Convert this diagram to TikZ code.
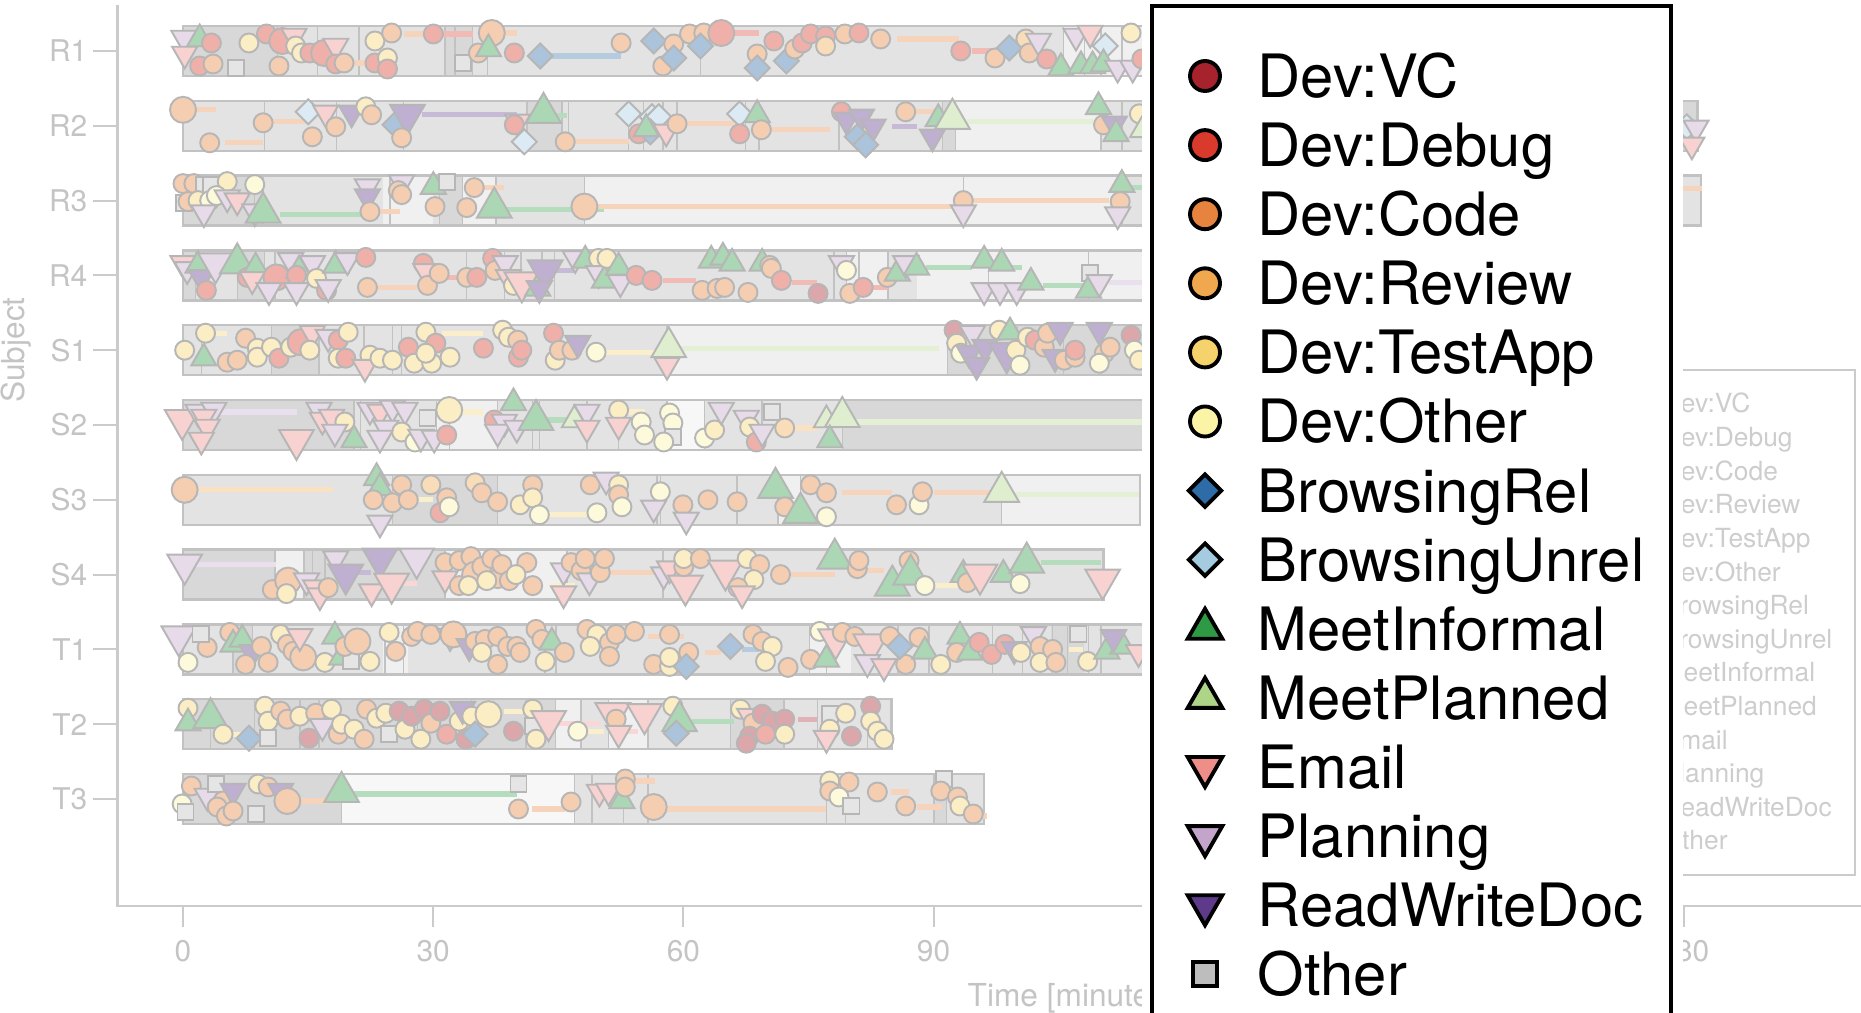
\documentclass[tikz,border=0pt]{standalone}
\usepackage{fontspec}
\setmainfont{TeX Gyre Heros}
\usetikzlibrary{shapes.geometric}

% activity colours (legend) and their faded versions (plot)
\definecolor{cVC}{HTML}{A6222C}
\definecolor{cDebug}{HTML}{D93A2B}
\definecolor{cCode}{HTML}{E6843F}
\definecolor{cReview}{HTML}{F0A84E}
\definecolor{cTest}{HTML}{F5D26B}
\definecolor{cOther}{HTML}{FBF3A6}
\definecolor{cBRel}{HTML}{2D6CA6}
\definecolor{cBUnrel}{HTML}{A5CBE0}
\definecolor{cMInf}{HTML}{2E9A44}
\definecolor{cMPlan}{HTML}{AED587}
\definecolor{cEmail}{HTML}{EE8E89}
\definecolor{cPlan}{HTML}{C3A5CB}
\definecolor{cRWD}{HTML}{5E3A8B}
\definecolor{cSq}{HTML}{BDBDBD}
\colorlet{fVC}{cVC!40!white}\colorlet{fDebug}{cDebug!40!white}
\colorlet{fCode}{cCode!40!white}\colorlet{fReview}{cReview!40!white}
\colorlet{fTest}{cTest!40!white}\colorlet{fOther}{cOther!40!white}
\colorlet{fBRel}{cBRel!40!white}\colorlet{fBUnrel}{cBUnrel!40!white}
\colorlet{fMInf}{cMInf!40!white}\colorlet{fMPlan}{cMPlan!40!white}
\colorlet{fEmail}{cEmail!40!white}\colorlet{fPlan}{cPlan!40!white}
\colorlet{fRWD}{cRWD!40!white}\colorlet{fSq}{cSq!40!white}
\colorlet{lnVC}{cVC!35!white}\colorlet{lnDebug}{cDebug!35!white}
\colorlet{lnCode}{cCode!35!white}\colorlet{lnReview}{cReview!35!white}
\colorlet{lnTest}{cTest!35!white}\colorlet{lnBRel}{cBRel!35!white}
\colorlet{lnMInf}{cMInf!35!white}\colorlet{lnMPlan}{cMPlan!35!white}
\colorlet{lnEmail}{cEmail!35!white}\colorlet{lnPlan}{cPlan!35!white}
\colorlet{lnRWD}{cRWD!35!white}
\definecolor{medge}{HTML}{B6B6B6}
\definecolor{axgray}{HTML}{CBCBCB}
\definecolor{axtext}{HTML}{C4C4C4}
\definecolor{barbase}{HTML}{E3E3E3}
\definecolor{segD}{HTML}{D8D8D8}
\definecolor{segL}{HTML}{F0F0F0}
\definecolor{segW}{HTML}{F7F7F7}
\definecolor{baredge}{HTML}{C2C2C2}

\tikzset{
  mk/.style={draw=medge, line width=0.55pt, inner sep=0pt, outer sep=0pt},
  circ/.style={mk, circle, minimum size=0.19cm},
  circL/.style={mk, circle, minimum size=0.26cm},
  dmd/.style={mk, diamond, minimum size=0.25cm},
  tup/.style={mk, regular polygon, regular polygon sides=3, minimum size=0.29cm},
  tupL/.style={tup, minimum size=0.40cm},
  tdn/.style={tup, shape border rotate=180},
  tdnL/.style={tupL, shape border rotate=180},
  sqr/.style={mk, rectangle, minimum size=0.16cm},
  mVC/.style={circ, fill=fVC}, mDebug/.style={circ, fill=fDebug},
  mDebugL/.style={circL, fill=fDebug}, mCode/.style={circ, fill=fCode},
  mCodeL/.style={circL, fill=fCode}, mReview/.style={circ, fill=fReview},
  mTest/.style={circ, fill=fTest}, mTestL/.style={circL, fill=fTest},
  mOther/.style={circ, fill=fOther},
  mBRel/.style={dmd, fill=fBRel}, mBUnrel/.style={dmd, fill=fBUnrel},
  mMInf/.style={tup, fill=fMInf}, mMInfL/.style={tupL, fill=fMInf},
  mMPlan/.style={tup, fill=fMPlan}, mMPlanL/.style={tupL, fill=fMPlan},
  mEmail/.style={tdn, fill=fEmail}, mEmailL/.style={tdnL, fill=fEmail},
  mPlan/.style={tdn, fill=fPlan}, mPlanL/.style={tdnL, fill=fPlan},
  mRWD/.style={tdn, fill=fRWD}, mRWDL/.style={tdnL, fill=fRWD},
  mSq/.style={sqr, fill=fSq},
  gk/.style={draw=black, line width=1.1pt, inner sep=0pt},
  gcirc/.style={gk, circle, minimum size=0.30cm},
  gdmd/.style={gk, diamond, minimum size=0.34cm},
  gup/.style={gk, regular polygon, regular polygon sides=3, minimum size=0.40cm},
  gdn/.style={gup, shape border rotate=180},
  gVC/.style={gcirc, fill=cVC}, gDebug/.style={gcirc, fill=cDebug},
  gCode/.style={gcirc, fill=cCode}, gReview/.style={gcirc, fill=cReview},
  gTest/.style={gcirc, fill=cTest}, gOther/.style={gcirc, fill=cOther},
  gBRel/.style={gdmd, fill=cBRel}, gBUnrel/.style={gdmd, fill=cBUnrel},
  gMInf/.style={gup, fill=cMInf}, gMPlan/.style={gup, fill=cMPlan},
  gEmail/.style={gdn, fill=cEmail}, gPlan/.style={gdn, fill=cPlan},
  gRWD/.style={gdn, fill=cRWD},
  gSq/.style={gk, rectangle, minimum size=0.24cm, fill=cSq},
  lgtext/.style={anchor=base west, inner sep=0pt, font=\fontsize{17}{20}\selectfont},
  ghost/.style={anchor=base west, inner sep=0pt, text=axtext!85!white, font=\fontsize{7.5}{9}\selectfont},
  axline/.style={draw=axgray, line width=0.6pt},
  axlab/.style={inner sep=0pt, text=axtext, font=\fontsize{8.5}{10}\selectfont},
  axtitle/.style={inner sep=0pt, text=axtext, font=\fontsize{9}{11}\selectfont},
  divline/.style={draw=baredge, line width=0.4pt},
  bardraw/.style={draw=baredge, line width=0.7pt},
  dline/.style={line width=1.5pt},
  rowat/.style={shift={(183,#1)}, x=0.0834cm}
}

% one subject: y, length [min], shaded parts, dividers, duration lines, markers
\newcommand{\actrow}[6]{%
  \begin{scope}[rowat=#1]
    \fill[barbase] (0,-25) rectangle (#2,25);
    \foreach \ta/\tb/\sh in {#3} \fill[\sh] (\ta,-25) rectangle (\tb,25);
    \foreach \ta in {#4} \draw[divline] (\ta,-25) -- (\ta,25);
    \draw[bardraw] (0,-25) rectangle (#2,25);
    \foreach \ta/\tb/\dy/\cl in {#5} \draw[dline, draw=\cl] (\ta,\dy) -- (\tb,\dy);
    \foreach \tm/\dy/\sty in {#6} \node[\sty] at (\tm,\dy) {};
  \end{scope}}

\begin{document}
\begin{tikzpicture}[x=0.01cm,y=-0.01cm]
\useasboundingbox (0,0) rectangle (1861,1013);
\clip (0,0) rectangle (1861,1013);

% axes
\draw[axline] (117.5,5) -- (117.5,906) -- (1861,906);
\foreach \i/\lab in {0/R1,1/R2,2/R3,3/R4,4/S1,5/S2,6/S3,7/S4,8/T1,9/T2,10/T3} {
  \draw[axline] (93,{51+74.8*\i}) -- (117.5,{51+74.8*\i});
  \node[axlab, anchor=east] (yl\i) at (88,{51+74.8*\i}) {\lab};
}
\foreach \v in {0,30,60,90,120,150,180} {
  \draw[axline] ({183+8.34*\v},906) -- ({183+8.34*\v},927);
  \node[axlab] (xl\v) at ({183+8.34*\v},951) {\v};
}
\node[axtitle, anchor=base west] (xtitle) at (967,1006) {Time [minutes]};
\node[axtitle, rotate=90] (ytitle) at (16,350) {Subject};

% R1
\actrow{51}{176}{0/11.3/segD,31.4/34.7/segD,105.5/118/segL}
{11.3,16.1,21.1,31.4,32.6,34.7,36.5,62,105.5,108,110,112.5}
{20.5/23.5/12/lnCode,26.5/29.3/-17/lnCode,31/34.7/-17/lnDebug,38.3/40/-18/lnCode,43.5/52.5/5/lnBRel,65.5/69/-18/lnDebug,85.5/93/-12/lnCode,94.5/97/0/lnDebug}
{0.1/-13/mPlan,0.2/3/mEmail,2/-12/mMInf,3.4/-8/mDebug,2/15/mDebug,3.6/13/mCode,6.3/17/mSq,7.9/-8/mTest,10/-17/mDebug,11.5/15/mCode,11.9/-10/mDebugL,13.3/-15/mEmail,13.5/-5/mTest,14.2/2/mTest,15.2/2/mDebug,16.9/2/mDebugL,18.3/-5/mEmail,18.3/13/mDebug,19.3/12/mCode,23/-10/mTest,25/-18/mCode,23/12/mDebug,24.5/7/mTest,24.5/18/mDebug,30/-17/mDebug,37/-18/mCodeL,33.5/12/mSq,35.4/2/mCode,36.6/-2/mMInf,39.7/2/mDebug,42.8/5/mBRel,52.5/-8/mCode,56.4/-10/mBRel,57.5/15/mCode,58.8/-7/mCode,58.8/7/mBRel,60.7/-17/mCode,62.4/-18/mCode,62/-5/mBRel,64.5/-18/mDebugL,68.8/3/mCode,68.8/17/mBRel,70.8/-10/mDebug,72.3/10/mBRel,73.3/-2/mCode,74.2/-8/mDebug,75.2/-17/mDebug,77/-15/mDebug,77/-5/mReview,79.3/-17/mCode,81/-18/mDebug,83.6/-12/mCode,93.2/0/mDebug,97.3/7/mCode,99/-3/mBRel,101/-12/mReview,101.4/2/mCode,102.5/-10/mPlan,103.5/8/mDebug,105.2/17/mMInf,107/-15/mPlan,107.6/15/mMInf,109/15/mMInf,108.7/-18/mEmail,110.5/-5/mBUnrel,110.3/13/mMInf,112/17/mPlan,113.8/17/mPlan,113.6/-18/mTest,114.9/8/mDebug}

% R2
\actrow{125.8}{181.5}{41.2/45.4/segD,91/92.6/segD,92.6/110/segL,178/181.5/segD}
{9.8,18.4,26.4,41.2,45.4,46.2,53.4,55.2,57.5,59.2,67.4,69,78.6,91,92.6,110,112.5,178}
{1.5/4/-16/lnCode,5/9.6/17/lnCode,10.5/15/-4/lnCode,28.6/40/-11/lnRWD,44.5/46/-10/lnMInf,46.5/53.4/16/lnCode,60/66/-2/lnCode,70.3/77.5/4/lnCode,85/88/1/lnRWD,87.5/90/-14/lnCode,94/109/-4/lnMPlan}
{0/-16/mCodeL,3.2/17/mCode,9.6/-3/mCode,15.5/11/mCode,15/-14/mBUnrel,17.1/-13/mEmail,18.3/1/mCode,20.2/-13/mRWD,21.9/-19/mTest,22.6/-11/mCode,25.4/-1/mBRel,26.9/-11/mRWDL,26.2/12/mCode,40.1/-4/mEmail,39.7/-1/mDebug,43.2/-13/mMInfL,40.9/16/mBUnrel,45.8/16/mCode,53.4/-12/mBUnrel,54.6/8/mDebug,56.2/-9/mBUnrel,57/-9/mBUnrel,56/6/mBRel,57.9/6/mEmail,55.5/3/mMInf,59.2/-2/mCode,66.7/-12/mBUnrel,68.8/-11/mMInf,66.7/8/mDebug,69.3/4/mCode,78.9/-14/mDebug,79.5/-6/mRWD,81.3/-9/mRWD,82.7/1/mRWD,80.8/11/mBRel,81.8/19/mBRel,86.6/-14/mCode,90.5/-7/mMInf,92.2/-7/mMPlanL,89.8/11/mRWD,109.7/-19/mMInf,110.3/-1/mCode,111.6/-2/mRWD,111.8/8/mMInf,114.6/-12/mTest,115/4/mMPlan,180.2/1/mBUnrel,181.3/2/mPlan,180.8/19/mEmail}

% R3
\actrow{200.6}{181.9}{0/9.6/segD,30.7/33.5/segD,24/30/segL,33.5/37.5/segL,48.1/112.5/segL}
{8.6,9.6,24.8,30.7,33.5,37.5,48.1,93.5,112.5}
{11.6/21.4/14/lnMInf,23.5/26/11/lnCode,36/38.5/-13/lnCode,38.8/50.5/9/lnMInf,49.5/93.5/6/lnCode,94.5/111/0/lnCode,113.5/116/-13/lnMInf,150/182/-12/lnCode}
{0/-17/mCode,1.3/-17/mCode,2.5/-16/mSq,3.4/-16/mSq,5.3/-19/mTest,0.1/2/mSq,0.6/1/mCode,1.8/0/mTest,3.2/0/mOther,4/-5/mOther,2.5/12/mPlan,5.3/-3/mPlan,6.5/0/mEmail,8.6/11/mPlan,8.6/-16/mOther,9.6/12/mMInfL,22.1/-14/mPlan,22.1/-4/mRWD,22.4/11/mCode,26.2/-18/mPlan,25.8/-10/mCode,26.2/-6/mCode,30/-14/mMInf,31.6/-19/mSq,30.2/6/mCode,34/7/mCode,34.9/-13/mCode,37.3/7/mMInfL,48.1/6/mCodeL,93.5/0/mCode,93.5/12/mPlan,112.5/-16/mMInf,112.3/1/mCode,112/14/mPlan}

% R4
\actrow{275.4}{170}{0/1.5/segD,6.5/9.8/segD,79.5/84.5/segL,88/115/segL}
{1.5,6.5,9.8,11,34,38.5,40.5,43,44.5,78,79.5,81,84.5,96.5,108.5}
{23.3/28/12/lnCode,31.5/33/2/lnDebug,44.7/47/-5/lnRWD,57.5/61.5/5/lnDebug,73/76/7/lnDebug,82.5/84.5/12/lnDebug,89/94.5/-8/lnMInf,99/100.5/-8/lnMInf,103/108/10/lnMInf,111/115/7/lnPlan}
{0/-12/mEmail,0.5/-6/mPlan,1.8/-10/mMInf,2.2/2/mRWD,2.8/15/mDebug,3.9/-12/mPlanL,6.5/-12/mMInfL,7.7/2/mDebug,8.7/-8/mMInf,8.3/4/mEmail,11.2/2/mDebugL,10.3/15/mPlan,12.9/-15/mPlan,13.9/-5/mMInf,13.6/0/mDebug,13.6/15/mPlan,15.5/-12/mPlan,16/3/mTest,17.2/15/mDebug,18.3/-10/mMInf,17.4/12/mPlan,19.7/-15/mPlan,21.9/-18/mDebug,22.1/12/mCode,28.8/-12/mDebug,29.1/-4/mEmail,29.3/10/mCode,30.7/-2/mCode,34/2/mCode,35.2/2/mDebug,37.1/-17/mDebug,37.4/-5/mCode,38.6/-12/mPlan,39/2/mEmail,39.6/10/mTest,40.6/7/mEmailL,42.5/13/mMInf,43.4/-5/mRWDL,42.7/13/mRWD,47/-17/mPlan,48.2/-15/mMInf,49.8/-17/mTest,49.8/-2/mPlan,50.5/5/mMInf,50.8/-17/mTest,52.2/-8/mMInf,52.4/7/mPlan,54.3/0/mDebug,56.2/5/mDebug,62.2/15/mCode,63.3/-15/mMInf,64.7/-18/mMInf,65.8/-12/mMInf,64/13/mCode,64.9/12/mCode,67.7/17/mCode,69.4/-12/mMInf,70.3/-10/mCode,70.5/-7/mCode,71.7/5/mDebug,76.1/18/mVC,78.9/-12/mPlan,79.5/-5/mOther,79.9/18/mCode,81.5/12/mDebug,84.4/2/mCode,85.6/-2/mMInf,86.6/-12/mPlan,87.9/-8/mMInf,96/-15/mMInf,98.1/-12/mMInf,96/15/mPlan,97.9/15/mPlan,99.9/15/mPlan,101.6/7/mMInf,108.7/-2/mSq,108.5/15/mMInf,109.8/7/mPlan}

% S1
\actrow{350.2}{170}{10.6/16.3/segD,58/91.6/segL,91.6/118/segD}
{2.2,10.6,16.3,21.7,25.1,26.2,58,91.6,95,100,105.5,110}
{3.7/5.3/-17/lnTest,31/36/-17/lnTest,50.5/56.5/2/lnTest,59.5/90.6/-2/lnMPlan,110/112/0/lnCode}
{0.2/0/mTest,2.7/-17/mTest,2.5/8/mMInf,5.3/12/mCode,6.5/10/mCode,7.5/-12/mCode,8.9/-2/mTest,8.9/7/mTest,10.6/-3/mTest,11.5/8/mDebug,12.9/-3/mTest,14.1/-8/mDebugL,15.5/-17/mEmail,15.2/0/mTest,17.4/-13/mPlan,18.6/-10/mDebug,19.8/-18/mTest,18.6/8/mTest,19.5/8/mDebug,22.4/5/mTest,21.8/17/mEmail,23.6/8/mTest,25.1/10/mTest,27/-3/mDebug,27.7/13/mTest,29.1/-18/mTest,30.3/-7/mDebug,29.8/13/mTest,29.1/3/mTest,32/7/mTest,36/-2/mDebug,38.3/-20/mTest,39/-13/mTest,40.1/-10/mCode,40.2/7/mDebug,40.6/0/mDebug,44.4/-17/mDebug,44.6/10/mTest,45.1/0/mCode,46.6/0/mCode,47.3/-7/mRWD,49.5/2/mOther,58.2/-3/mMPlanL,58/15/mEmail,92.4/-20/mVC,92.7/-7/mTest,93.2/3/mOther,94.6/-17/mPlan,94.2/3/mRWD,95.1/15/mRWD,96.1/-3/mRWD,97.8/-20/mTest,99.1/-18/mMInf,98.7/3/mRWDL,99.8/0/mTest,100.3/15/mOther,101.2/-13/mTest,102.1/-10/mDebug,103.2/-3/mCode,103.6/-17/mCode,104.5/7/mRWD,105.1/-20/mRWD,105.6/10/mCode,106.9/7/mCode,106.9/0/mDebug,109.8/-20/mRWD,110.4/3/mCode,111.1/-3/mCode,109.8/13/mOther,113.6/-15/mVC,114/0/mOther,114.6/10/mTest}

% S2
\actrow{425}{150}{0/20.5/segD,30.4/37.7/segL,58/62.5/segW,79/150/segD}
{20.5,21.3,30.4,31.9,37.7,41.9,42.7,48.4,52.2,58,62.5,69.4,79}
{4.5/13.6/-13/lnPlan,33/36/-13/lnTest,43.5/46.7/-5/lnMInf,52.5/55.3/-13/lnTest,73/76/3/lnReview,80.5/140/-3/lnMPlan}
{-0.1/-5/mEmailL,1.8/-13/mPlan,3.7/-15/mPlan,2.5/-8/mEmail,2.9/2/mEmail,2.2/15/mEmail,13.6/15/mEmailL,16.3/-15/mPlan,16.7/-5/mEmail,17.8/-8/mEmail,19.4/-3/mTest,18.2/7/mPlan,20.5/15/mMInf,22.4/-15/mPlan,23.6/-13/mEmail,25.1/-17/mPlan,26.6/-15/mPlan,24.3/3/mPlan,26.2/7/mTest,23.6/13/mPlan,27.8/17/mOther,28.5/12/mPlan,30.1/13/mPlan,29.3/-7/mSq,31.6/10/mDebug,31.9/-15/mTestL,37.3/-5/mDebug,38.5/-3/mPlan,37.7/7/mPlan,40/3/mPlan,39.6/-22/mMInf,42.3/-5/mMInfL,46.9/-5/mMPlan,48.4/-13/mPlan,48.4/3/mEmail,52.2/-15/mTest,52.2/0/mEmail,54.9/-3/mOther,55.3/10/mOther,58.3/-12/mOther,58.7/-2/mOther,58.7/12/mSq,57.6/17/mOther,62.5/13/mOther,63.7/5/mTest,64.5/-15/mPlan,67.5/-7/mPlan,67.9/2/mTest,68.7/17/mDebug,69.4/7/mPlan,70.6/-13/mSq,72.1/3/mReview,77.1/-5/mMPlan,79/-8/mMPlanL,77.5/15/mMInf}

% S3
\actrow{499.8}{114.7}{25.1/37.7/segD,71.3/74/segL,98.1/114.7/segL}
{25.1,37.7,41.9,42.7,56.8,57.2,66.4,71.3,74,98.1}
{1.2/18/-10/lnReview,28/30/0/lnTest,43/49/15/lnTest,79/85/-7/lnCode,90/97/-7/lnCode,99.5/114.5/-5/lnMPlan}
{0.2/-10/mCodeL,23.2/-22/mMInf,23.6/-12/mMInf,22.8/0/mCode,25.1/3/mCode,26.2/-15/mCode,27/0/mCode,23.6/23/mPlan,29.7/-15/mReview,30.8/13/mDebug,31.6/-2/mCode,31.9/7/mOther,35/-17/mReview,35.8/-7/mCode,37.7/2/mCode,40.4/5/mTest,41.9/-15/mCode,41.9/-2/mTest,42.7/15/mOther,48.8/-15/mCode,50.7/-20/mPlan,52.2/-15/mTest,52.2/-5/mCode,52.6/7/mOther,49.6/13/mOther,57.2/-8/mOther,56.4/8/mPlan,59.9/5/mCode,60.3/20/mPlan,62.9/0/mCode,66.4/2/mCode,71/-12/mMInfL,72.1/7/mCode,74/13/mMInfL,75.2/-15/mCode,77.1/-7/mCode,77.1/17/mOther,85.5/5/mCode,88.2/5/mOther,88.6/-8/mCode,98.1/-8/mMPlanL}

% S4
\actrow{574.6}{110.3}{0/11/segD,11/14.5/segL,14.5/31.4/segD,31.4/46/segL}
{11,14.5,15.5,17,31.4,46,57.5}
{1.3/11.2/-10/lnPlan,20.5/22.5/-2/lnRWD,26/28/9/lnEmail,44/47/11/lnTest,51.2/56.7/-2/lnCode,72.7/78.1/0/lnCode,82/84/-4/lnCode,90/93/11/lnTest,102.8/110/-12/lnMInf}
{0.2/-10/mPlanL,10.7/15/mCode,12.6/6/mCodeL,12.4/19/mTest,14.8/6/mPlan,15.9/13/mEmail,16.4/21/mEmail,17.4/13/mCode,18.3/-16/mPlan,19.5/0/mRWDL,23.6/-16/mRWDL,22.6/17/mEmail,25/9/mEmailL,28/-16/mPlanL,31.4/-12/mCode,31.4/4/mEmail,33.1/11/mCode,33.1/-14/mCode,34.5/-18/mCode,35/0/mCodeL,35.8/-8/mCode,37/-16/mCode,37.7/4/mCode,38.2/-10/mCode,39.1/6/mCode,41.2/-12/mCode,41.9/11/mCode,34.2/11/mTest,36.4/6/mTest,39.9/0/mTest,45.6/-4/mPlan,45.6/19/mEmail,46.5/-12/mCode,47.7/-4/mCode,48.2/-16/mCode,48.7/6/mPlan,50/-2/mCode,50.5/-16/mCode,57.6/0/mPlan,58.3/-6/mEmail,60.2/11/mEmailL,60/-8/mCode,60/-16/mTest,62/-16/mCode,65/-4/mEmailL,67.6/-16/mTest,69.1/-10/mCode,68.4/5/mTest,66.5/13/mCode,67/19/mEmail,71.6/0/mCode,78.1/-16/mMInfL,80.8/-6/mCode,81/-14/mCode,85/11/mMInfL,87/-14/mCode,87.2/0/mMInfL,88.9/11/mOther,93.5/0/mMInf,94/8/mCode,95.5/0/mEmailL,98.3/0/mMInf,100.3/9/mOther,101.1/-12/mMInfL,110.2/5/mEmailL}

% T1
\actrow{649.4}{170}{6/8.3/segD,24/27/segL,75/80/segL,104/108/segD}
{6,8.3,24.2,26.4,43.4,44.7,75.1,77.1,85.7,89.4,97,100.6,104.2,106,108.5,110}
{55.7/60/-13/lnCode,62.5/64.5/3/lnCode,67/69/0/lnBRel,106.2/107.8/0/lnTest}
{-0.5/-13/mPlanL,0.6/13/mOther,2.9/-2/mCode,2.1/-15/mSq,5.6/-17/mCode,6/-5/mMInf,7.1/-10/mMInf,8.3/3/mRWD,7.5/15/mCode,9.4/-3/mCode,10.2/13/mCode,11.7/-15/mTest,12.5/-5/mCode,13.2/2/mCode,14.4/8/mCodeL,14/-13/mEmail,17/13/mTest,18.2/-13/mMInf,19/8/mMInf,20.1/12/mSq,19.4/-3/mCode,20.9/-8/mCodeL,22.4/12/mTest,24.7/-17/mTest,25.5/2/mCode,27.4/-13/mCode,28.1/-18/mCode,29.7/-15/mCode,32/-13/mPlan,32.4/-15/mCodeL,34.3/-3/mRWD,35/-8/mCode,36.2/-10/mCode,35.8/3/mTest,37.7/-13/mCode,38.9/-3/mCode,40/-3/mCode,37.7/15/mCode,40.4/3/mCode,42.3/-20/mCode,43/-10/mCode,44.2/-7/mMInf,43.4/12/mTest,45.7/3/mCode,48.4/-20/mCode,49.6/-15/mTest,48.8/-3/mTest,51.1/-7/mCode,51.9/-15/mCode,54.1/-18/mCode,51.1/7/mCode,56.4/15/mCode,58.3/17/mTest,58.3/-15/mCode,60.6/3/mCode,58.3/8/mTest,60.3/17/mBRel,65.6/-3/mBRel,68.3/-15/mCode,69.4/-8/mCode,70.6/-3/mTest,69.8/12/mTest,72.5/18/mCode,75.2/10/mCode,76.3/-18/mOther,78.2/-10/mEmailL,77.1/10/mMInf,79/-17/mCode,80.5/-13/mCode,82.4/-5/mEmailL,82/13/mPlan,84/17/mEmail,86.6/15/mCode,84.7/-13/mCode,85.9/-3/mBRel,88.2/-12/mCode,88.9/2/mMInf,90.8/15/mTest,93.1/-13/mMInf,92.7/3/mCode,94.3/3/mMInf,95.4/-7/mDebug,96.9/5/mDebug,98.5/-5/mDebug,99.6/0/mRWD,100.4/3/mTest,101.9/-15/mPlan,102.7/-3/mCode,102.7/13/mTest,104.2/0/mCode,104.6/13/mCode,107.3/-15/mSq,108.4/12/mTest,110.7/2/mMInf,112.6/-3/mMInf,111.5/-12/mRWD,114.5/3/mEmail}

% T2
\actrow{724.2}{84.9}{0/44.6/segD,44.6/47.7/segL,51/55.7/segL,65.6/72/segD}
{3.3,8.6,14,16.3,28.1,34.6,41.1,44.6,47.7,51,55.7,65.6,72,76,82}
{5.8/7.3/10/lnTest,38.5/40.7/-13/lnTest,45/50/-1/lnEmail,48.5/50.5/7/lnTest,53/54.5/7/lnEmail,61/66/-3/lnMInf,73.7/76/-5/lnVC}
{0.6/-16/mTest,0.6/-1/mMInf,3.3/-6/mMInfL,4.8/10/mTest,7.9/14/mBRel,9.8/-18/mTest,10.2/-3/mTest,10.2/14/mSq,11.7/-13/mCode,12.5/-5/mCode,14/-8/mTest,15.1/14/mVC,15.9/-11/mCode,16.7/2/mPlan,17.8/-15/mTest,18.6/10/mCode,19/0/mTest,20.5/5/mTest,22/-15/mCode,21.7/15/mCode,23.2/-6/mTest,24.3/-11/mTest,24.7/10/mSq,25.9/-13/mVC,26.6/5/mTest,27.4/-8/mVC,28.5/15/mTest,28.9/-15/mVC,29.7/-1/mCode,30.8/-13/mVC,31.6/10/mDebug,33.1/-3/mTest,33.5/-15/mRWD,34.6/-8/mTest,33.9/15/mVC,36.6/-10/mTestL,35/10/mBRel,41.9/-15/mTest,41.9/2/mSq,42.3/15/mTest,39.6/7/mVC,43.8/-3/mEmailL,47.3/7/mOther,51.5/-11/mEmailL,51.9/-5/mCode,52.2/9/mEmail,55.3/-10/mEmailL,58.7/-18/mTest,59.5/-3/mMInfL,59.1/9/mBRel,66.8/-15/mTest,67.9/-8/mEmail,68.3/-1/mCode,69.4/-10/mVC,70.6/-3/mVC,72.1/-5/mVC,67.9/12/mVC,69.8/10/mDebug,72.1/10/mTest,67.5/19/mVC,77.5/-10/mSq,77.5/5/mTest,77.1/14/mEmail,79.4/-11/mTest,82.4/-18/mVC,82.4/-3/mTest,83.2/7/mTest,84/15/mTest,80.1/12/mVC}

% T3
\actrow{799}{96}{0/19/segD,19/46.9/segW,90/91.5/segD}
{19,46.9,49,52.8,55.7,77.1,79.4,90,91.5}
{14/17.5/2/lnCode,20.5/40/-5/lnMInf,41.8/45.8/10/lnCode,54.2/56.5/-18/lnCode,58/77/10/lnCode,84.8/87/-7/lnCode,88/91/8/lnCode,95/96.3/17/lnCode}
{1/-13/mCode,-0.1/5/mOther,0.3/13/mSq,2.9/-3/mPlan,4/-15/mSq,4.8/2/mCode,4.1/8/mCode,6/-8/mRWD,5.2/17/mCode,6/12/mCode,8.7/15/mSq,9/-15/mTest,10.2/-12/mCode,11.7/-8/mRWD,12.5/2/mCodeL,19/-7/mMInfL,40.2/-15/mSq,40.2/10/mCode,46.5/3/mCode,49.9/-7/mEmail,51/-8/mEmail,52.6/2/mMInf,53/-20/mCode,53/-12/mCode,56.4/8/mCodeL,77.5/-18/mTest,79.8/-17/mCode,77.5/-8/mCode,78.6/-2/mOther,80.1/7/mSq,83.2/-7/mCode,86.6/7/mCode,91.2/-20/mSq,90.8/-8/mCode,92.8/-2/mCode,93.1/7/mTest,94.7/15/mCode}

% faded legend of the plot behind the overlay
\draw[draw=axgray, line width=0.6pt] (1600,370) rectangle (1855,875);
\foreach \i/\lab in {0/Dev:VC,1/Dev:Debug,2/Dev:Code,3/Dev:Review,4/Dev:TestApp,5/Dev:Other,6/BrowsingRel,7/BrowsingUnrel,8/MeetInformal,9/MeetPlanned,10/Email,11/Planning,12/ReadWriteDoc,13/Other}
  \node[ghost] (gl\i) at (1661,{413+33.6*\i}) {\lab};

% legend overlay
\fill[white] (1142,-10) rectangle (1683,1030);
\draw[line width=1.3pt] (1152,6) rectangle (1671,1040);
\foreach \i/\sty/\lab in {0/gVC/Dev:VC,1/gDebug/Dev:Debug,2/gCode/Dev:Code,3/gReview/Dev:Review,4/gTest/Dev:TestApp,5/gOther/Dev:Other,6/gBRel/BrowsingRel,7/gBUnrel/BrowsingUnrel,8/gMInf/MeetInformal,9/gMPlan/MeetPlanned,10/gEmail/Email,11/gPlan/Planning,12/gRWD/ReadWriteDoc,13/gSq/Other} {
  \node[\sty] (lm\i) at (1205,{76+69.1*\i}) {};
  \node[lgtext] (lt\i) at (1257,{76+69.1*\i+21.5}) {\lab};
}
\end{tikzpicture}
\end{document}
